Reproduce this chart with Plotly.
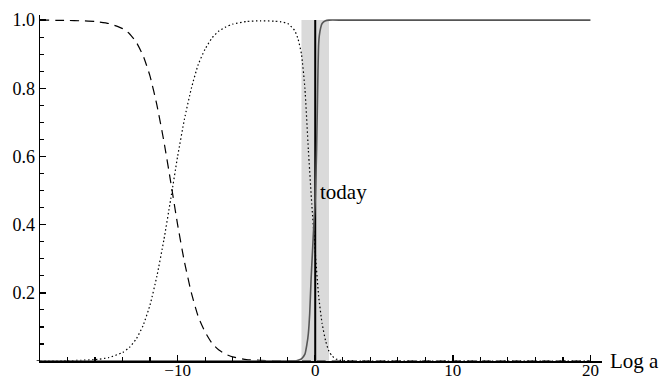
import plotly.graph_objects as go

# ---- data (x = Log a) ----
rad_x = [-20, -18, -17, -16, -15, -14, -13.5, -13, -12.5, -12, -11.5, -11, -10.5, -10,
         -9.5, -9, -8.5, -8, -7.5, -7, -6.5, -6, -5, -4, -3, -2, 0, 5, 10, 15, 20]
rad_y = [1.0, 0.999, 0.998, 0.996, 0.99, 0.975, 0.96, 0.935, 0.895, 0.835, 0.75, 0.645,
         0.525, 0.40, 0.29, 0.20, 0.13, 0.085, 0.052, 0.032, 0.02, 0.012, 0.004, 0.002,
         0.0, 0.0, 0.0, 0.0, 0.0, 0.0, 0.0]

mat_x = [-20, -18, -17, -16, -15, -14, -13.5, -13, -12.5, -12, -11.5, -11, -10.5, -10,
         -9.5, -9, -8.5, -8, -7.5, -7, -6.5, -6, -5, -4, -3, -2.5, -2, -1.5, -1.25, -1,
         -0.75, -0.5, -0.25, 0, 0.25, 0.5, 0.75, 1, 1.25, 1.5, 2, 3, 5, 10, 15, 20]
mat_y = [0.0, 0.001, 0.002, 0.004, 0.01, 0.025, 0.04, 0.065, 0.105, 0.165, 0.25, 0.355,
         0.475, 0.60, 0.71, 0.80, 0.87, 0.915, 0.948, 0.968, 0.98, 0.988, 0.996, 0.998,
         0.997, 0.995, 0.99, 0.97, 0.945, 0.90, 0.80, 0.62, 0.46, 0.32, 0.19, 0.11, 0.06,
         0.028, 0.014, 0.006, 0.001, 0.0, 0.0, 0.0, 0.0, 0.0]

de_x = [-20, -10, -2, -1.5, -1.25, -1, -0.75, -0.6, -0.5, -0.4, -0.3, -0.2, -0.1, 0,
        0.1, 0.2, 0.25, 0.3, 0.4, 0.5, 0.75, 1, 2, 5, 10, 15, 20]
de_y = [0.0, 0.0, 0.0, 0.0, 0.002, 0.006, 0.02, 0.05, 0.08, 0.14, 0.24, 0.32, 0.40, 0.47,
        0.62, 0.85, 0.93, 0.955, 0.978, 0.99, 0.998, 1.0, 1.0, 1.0, 1.0, 1.0, 1.0]

today_x = 0
band = [-1, 1]
x_ticks = [-10, 0, 10, 20]
y_ticks = [0.2, 0.4, 0.6, 0.8, 1.0]
y_tick_text = ["0.2", "0.4", "0.6", "0.8", "1.0"]
x_minor = [v for v in range(-18, 21, 2) if v % 10 != 0]
y_minor = [round(0.05 * i, 2) for i in range(1, 21) if i % 4 != 0]

FONT = "Liberation Serif"

fig = go.Figure()
fig.add_trace(go.Scatter(x=rad_x, y=rad_y, mode="lines", hoverinfo="skip",
                         line=dict(color="black", width=1.2, dash="9px,6px", shape="spline", smoothing=0.5)))
fig.add_trace(go.Scatter(x=mat_x, y=mat_y, mode="lines", hoverinfo="skip",
                         line=dict(color="black", width=1.2, dash="1.5px,2.5px", shape="spline", smoothing=0.5)))
fig.add_trace(go.Scatter(x=de_x, y=de_y, mode="lines", hoverinfo="skip",
                         line=dict(color="#555555", width=1.6, shape="spline", smoothing=0.5)))

fig.add_shape(type="rect", x0=band[0], x1=band[1], y0=0, y1=1, xref="x", yref="y",
              fillcolor="#dadada", line=dict(width=0), layer="below")
fig.add_shape(type="line", x0=today_x, x1=today_x, y0=0, y1=1, xref="x", yref="y",
              line=dict(color="black", width=2), layer="below")
fig.add_shape(type="line", x0=-0.006, x1=0, y0=0, y1=0, xref="paper", yref="y",
              line=dict(color="black", width=1.5))
fig.add_shape(type="line", x0=-20, x1=-20, y0=-0.02, y1=0, xref="x", yref="y",
              line=dict(color="black", width=1.5))

fig.add_annotation(x=today_x + 0.2, y=0.495, text="today", showarrow=False,
                   xanchor="left", yanchor="middle", font=dict(family=FONT, size=21, color="black"))
fig.add_annotation(x=1.0, y=0, xref="paper", yref="y", text="Log a", showarrow=False,
                   xanchor="left", yanchor="middle", xshift=6,
                   font=dict(family=FONT, size=21, color="black"))

fig.update_layout(
    width=662, height=381,
    margin=dict(l=40, r=60, t=15, b=20),
    plot_bgcolor="white", paper_bgcolor="white",
    showlegend=False,
    font=dict(family=FONT, size=18, color="black"),
)
fig.update_xaxes(range=[-20, 20.84], showgrid=False, zeroline=False, automargin=False,
                 showline=True, linecolor="black", linewidth=1.5,
                 tickvals=x_ticks, ticks="inside", ticklen=6, tickwidth=1.5, tickcolor="black",
                 ticklabelstandoff=-7,
                 minor=dict(tickvals=x_minor, ticks="inside", ticklen=4, tickwidth=1.2, tickcolor="black"),
                 tickfont=dict(family=FONT, size=17), fixedrange=True)
fig.update_yaxes(range=[0, 1.015], showgrid=False, zeroline=False, automargin=False,
                 showline=True, linecolor="black", linewidth=1.5,
                 tickvals=y_ticks, ticktext=y_tick_text, ticks="inside", ticklen=6, tickwidth=1.5,
                 tickcolor="black",
                 minor=dict(tickvals=y_minor, ticks="inside", ticklen=4, tickwidth=1.2, tickcolor="black"),
                 tickfont=dict(family=FONT, size=18), fixedrange=True)

fig.write_html("out.html", config={"displayModeBar": False, "staticPlot": True},
               post_script="document.body.style.margin='0';document.body.style.overflow='hidden';")
